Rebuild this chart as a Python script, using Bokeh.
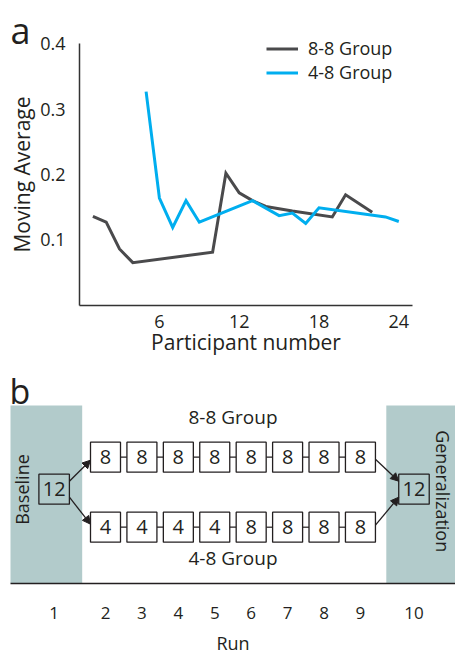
import math
from bokeh.plotting import figure
from bokeh.layouts import column
from bokeh.models import (Range1d, FixedTicker, Label, Legend, LegendItem,
                          Arrow, NormalHead, ColumnDataSource)
from bokeh.core.properties import value
from bokeh.embed import file_html
from bokeh.resources import INLINE

FONT = "Open Sans"
TXT = "#231f20"
DARK = "#4a4a4c"
BLUE = "#00aeef"
BAND = "#b2cbcb"

# ---------------- data: panel a ----------------
participants_88 = [1, 2, 3, 4, 10, 11, 12, 13, 14, 16, 19, 20, 22]
moving_avg_88 = [0.136, 0.127, 0.086, 0.065, 0.081, 0.202, 0.172, 0.160, 0.151, 0.144, 0.135, 0.169, 0.142]
participants_48 = [5, 6, 7, 8, 9, 13, 15, 16, 17, 18, 23, 24]
moving_avg_48 = [0.327, 0.164, 0.119, 0.160, 0.127, 0.160, 0.137, 0.141, 0.125, 0.149, 0.135, 0.128]
x_ticks_a = [6, 12, 18, 24]
y_ticks_a = [0.1, 0.2, 0.3, 0.4]
series_labels = ["8-8 Group", "4-8 Group"]

# ---------------- data: panel b ----------------
runs = [1, 2, 3, 4, 5, 6, 7, 8, 9, 10]
baseline_load = 12
group_88_loads = [8, 8, 8, 8, 8, 8, 8, 8]
group_48_loads = [4, 4, 4, 4, 8, 8, 8, 8]
generalization_load = 12
phase_labels = ["Baseline", "Generalization"]

# ================= panel a =================
WA, HA = 455, 360
AX0, AXS = 79.1, 13.3      # px of x=0 from left, px per participant
AY0, AYS = 304.6, 653.0    # px of y=0 from top, px per unit
pa = figure(width=WA, height=HA,
            x_range=Range1d(-AX0 / AXS, (WA - AX0) / AXS),
            y_range=Range1d(-(HA - AY0) / AYS, AY0 / AYS),
            output_backend="svg", toolbar_location=None,
            min_border_left=0, min_border_right=0, min_border_top=0, min_border_bottom=0)
pa.outline_line_color = None
pa.grid.visible = False
pa.background_fill_color = "white"

r88 = pa.line(participants_88, moving_avg_88, line_color=DARK, line_width=3, line_join="miter")
r48 = pa.line(participants_48, moving_avg_48, line_color=BLUE, line_width=3, line_join="miter")

pa.xaxis.ticker = FixedTicker(ticks=x_ticks_a)
pa.yaxis.ticker = FixedTicker(ticks=y_ticks_a)
pa.xaxis.axis_label = "Participant number"
pa.yaxis.axis_label = "Moving Average"
pa.xaxis.fixed_location = 0
pa.yaxis.fixed_location = 0
pa.xaxis.bounds = (0, 25)
pa.yaxis.bounds = (0, 0.4)
for ax in (pa.xaxis[0], pa.yaxis[0]):
    ax.axis_line_color = "#333333"
    ax.axis_line_width = 1.5
    ax.major_tick_line_color = None
    ax.minor_tick_line_color = None
    ax.major_label_text_font = FONT
    ax.major_label_text_font_size = "18px"
    ax.major_label_text_color = TXT
    ax.axis_label_text_font = FONT
    ax.axis_label_text_font_size = "21px"
    ax.axis_label_text_font_style = "normal"
    ax.axis_label_text_color = TXT
pa.xaxis.major_label_standoff = 4
pa.xaxis.axis_label_standoff = -4
pa.yaxis.major_label_standoff = 8
pa.yaxis.axis_label_standoff = 1

# legend: location is its bottom-left corner, screen px from the plot's bottom-left
legend = Legend(items=[LegendItem(label=series_labels[0], renderers=[r88]),
                       LegendItem(label=series_labels[1], renderers=[r48])],
                location=(266, HA - 84), border_line_color=None, background_fill_alpha=0,
                padding=0, margin=0, spacing=0, glyph_width=32, glyph_height=23,
                label_height=23, label_standoff=10, label_text_font=FONT,
                label_text_font_size="18px", label_text_color=TXT)
pa.add_layout(legend)

pa.add_layout(Label(x=10, y=HA - 29.5, x_units="screen", y_units="screen", text="a",
                    text_font=FONT, text_font_size="36px", text_color=TXT,
                    text_baseline="alphabetic"))

# ================= panel b =================
WB, HB = 455, 293
BX2, BXS = 105.0, 36.42    # px of run 2 from left, px per run slot
BY0 = 222.7                # px of the baseline line from top (y in px units)
X_MIN, X_MAX = 2 - BX2 / BXS, 2 + (WB - BX2) / BXS
pb = figure(width=WB, height=HB, x_range=Range1d(X_MIN, X_MAX),
            y_range=Range1d(-(HB - BY0), BY0),
            output_backend="svg", toolbar_location=None,
            min_border_left=0, min_border_right=0, min_border_top=0, min_border_bottom=0)
pb.outline_line_color = None
pb.grid.visible = False
pb.yaxis.visible = False

# layout positions of the runs along the axis
pos = {r: float(r) for r in runs}
pos[runs[0]] = 0.59
pos[runs[-1]] = 10.47
ROW_TOP, ROW_BOT, MID = 126, 56, 94
BOX_W, BOX_H = 30 / BXS, 30
END_W, END_H = 30.5 / BXS, 30
AXIS_LEFT = 2 - 95 / BXS

# shaded bands for baseline and generalization runs
pb.quad(left=[AXIS_LEFT, pos[runs[-1]] - 0.76], right=[pos[runs[0]] + 0.77, X_MAX],
        bottom=[0, 0], top=[177.7, 177.7], fill_color=BAND, line_color=None)

mid_runs = runs[1:-1]
# connectors between consecutive boxes
for row_y in (ROW_TOP, ROW_BOT):
    pb.segment(x0=[pos[r] + BOX_W / 2 for r in mid_runs[:-1]],
               x1=[pos[r] - BOX_W / 2 for r in mid_runs[1:]],
               y0=[row_y] * (len(mid_runs) - 1), y1=[row_y] * (len(mid_runs) - 1),
               line_color=TXT, line_width=1.2)

box_src = ColumnDataSource(dict(
    x=[pos[r] for r in mid_runs] * 2,
    y=[ROW_TOP] * len(mid_runs) + [ROW_BOT] * len(mid_runs),
    t=[str(v) for v in group_88_loads + group_48_loads]))
pb.rect(x="x", y="y", width=BOX_W, height=BOX_H, source=box_src,
        fill_color="white", line_color=TXT, line_width=1.3)
pb.text(x="x", y="y", text="t", source=box_src, text_font=value(FONT),
        text_font_size="20px", text_color=TXT, text_align="center", text_baseline="middle")

end_src = ColumnDataSource(dict(x=[pos[runs[0]], pos[runs[-1]]], y=[MID, MID],
                                t=[str(baseline_load), str(generalization_load)]))
pb.rect(x="x", y="y", width=END_W, height=END_H, source=end_src,
        fill_alpha=0, line_color=TXT, line_width=1.3)
pb.text(x="x", y="y", text="t", source=end_src, text_font=value(FONT),
        text_font_size="20px", text_color=TXT, text_align="center", text_baseline="middle")

# arrows
def arrow(xs, ys, xe, ye):
    pb.add_layout(Arrow(end=NormalHead(size=8, fill_color=TXT, line_color=TXT, line_width=1),
                        x_start=xs, y_start=ys, x_end=xe, y_end=ye,
                        line_color=TXT, line_width=1.3))

x_b = pos[runs[0]] + END_W / 2
x_first = pos[mid_runs[0]] - BOX_W / 2
arrow(x_b, MID + 8, x_first, ROW_TOP - 3)
arrow(x_b, MID - 8, x_first, ROW_BOT + 3)
x_last = pos[mid_runs[-1]] + BOX_W / 2
x_g = pos[runs[-1]] - END_W / 2
arrow(x_last, ROW_TOP - 2, x_g, MID + 8)
arrow(x_last, ROW_BOT + 2, x_g, MID - 8)

# group and phase labels
pb.text(x=[5.5, 5.5], y=[166, 25.4], text=series_labels, text_font=value(FONT),
        text_font_size="19px", text_color=TXT, text_align="center", text_baseline="middle")
pb.text(x=[-0.29], y=[93.7], text=[phase_labels[0]], angle=math.pi / 2,
        text_font=value(FONT), text_font_size="18px", text_color=TXT,
        text_align="center", text_baseline="middle")
pb.text(x=[11.27], y=[92], text=[phase_labels[1]], angle=-math.pi / 2,
        text_font=value(FONT), text_font_size="18px", text_color=TXT,
        text_align="center", text_baseline="middle")

pb.xaxis.ticker = FixedTicker(ticks=[pos[r] for r in runs])
pb.xaxis.major_label_overrides = {pos[r]: str(r) for r in runs}
pb.xaxis.axis_label = "Run"
pb.xaxis.fixed_location = 0
pb.xaxis.bounds = (AXIS_LEFT, X_MAX)
ax = pb.xaxis[0]
ax.axis_line_color = TXT
ax.axis_line_width = 1.5
ax.major_tick_line_color = None
ax.minor_tick_line_color = None
ax.major_label_text_font = FONT
ax.major_label_text_font_size = "17px"
ax.major_label_text_color = TXT
ax.major_label_standoff = 18
ax.axis_label_text_font = FONT
ax.axis_label_text_font_size = "18px"
ax.axis_label_text_font_style = "normal"
ax.axis_label_text_color = TXT
ax.axis_label_standoff = 8

pb.add_layout(Label(x=9, y=HB - 30, x_units="screen", y_units="screen", text="b",
                    text_font=FONT, text_font_size="34px", text_color=TXT,
                    text_baseline="alphabetic"))

p = column(pa, pb)
open("out.html", "w").write(file_html(p, INLINE))
